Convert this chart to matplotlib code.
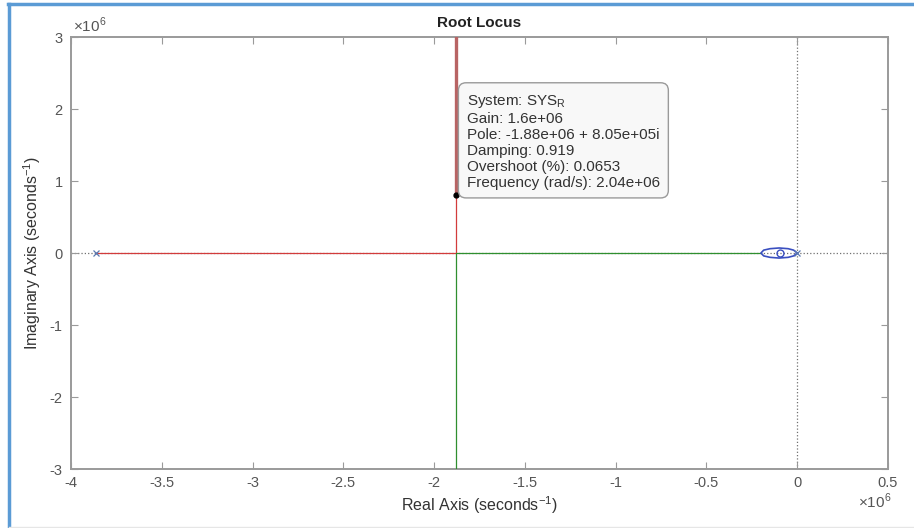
import numpy as np
import matplotlib.pyplot as plt
from matplotlib.lines import Line2D
from matplotlib.ticker import FuncFormatter

plt.rcParams['font.family'] = ['Liberation Sans', 'DejaVu Sans']
plt.rcParams['axes.unicode_minus'] = False
plt.rcParams['mathtext.fontset'] = 'custom'
plt.rcParams['mathtext.rm'] = 'Liberation Sans'

# branches of the locus (real, imag), seconds^-1
red_re = [-3.86e6, -1.88e6, -1.88e6]
red_im = [0.0, 0.0, 3.2e6]
green_re = [-0.2e6, -1.88e6, -1.88e6]
green_im = [0.0, 0.0, -3.2e6]
# small loop around the zero
blue_re = [0.0, -0.02e6, -0.05e6, -0.1e6, -0.15e6, -0.185e6, -0.2e6,
           -0.185e6, -0.15e6, -0.1e6, -0.05e6, -0.02e6, 0.0]
blue_im = [0.0, 0.04e6, 0.06e6, 0.07e6, 0.06e6, 0.04e6, 0.0,
           -0.04e6, -0.06e6, -0.07e6, -0.06e6, -0.04e6, 0.0]
poles_re = [-3.86e6, 0.0]
zeros_re = [-0.095e6]

# selected point of the data tip
tip_re, tip_im = -1.88e6, 0.805e6
tip_lines = ["System: SYS$_\\mathregular{R}$", "Gain: 1.6e+06",
             "Pole: -1.88e+06 + 8.05e+05i", "Damping: 0.919",
             "Overshoot (%): 0.0653", "Frequency (rad/s): 2.04e+06"]

xticks = np.arange(-4e6, 0.51e6, 0.5e6)
yticks = np.arange(-3e6, 3.1e6, 1e6)
scale = 1e6


def fmt(v, pos):
    return "%g" % (round(v / scale, 3) + 0.0)


fig = plt.figure(figsize=(9.14, 5.28), dpi=100)
ax = fig.add_axes([0.0777, 0.1117, 0.8939, 0.8182])

grey = '#9a9a9a'
ax.axhline(0, color='#707070', ls=':', lw=0.9, zorder=1)
ax.axvline(0, color='#707070', ls=':', lw=0.9, zorder=1)

ax.plot(red_re, red_im, color='#d23c3c', lw=0.9, zorder=3)
ax.plot([tip_re, tip_re], [tip_im, 3.2e6], color='#b86464', lw=2.4, zorder=3)
ax.plot(green_re, green_im, color='#2f8f2f', lw=0.9, zorder=3)
ax.plot(blue_re, blue_im, color='#3a4fc0', lw=1.2, zorder=4)
ax.plot(poles_re, [0, 0], 'x', color='#5a78b0', ms=5, mew=0.9, zorder=5)
ax.plot(zeros_re, [0], 'o', mfc='none', mec='#3a4fc0', ms=5, mew=1.0, zorder=5)
ax.plot([tip_re], [tip_im], 'o', color='black', ms=3.5, zorder=6)

ax.text(tip_re + 0.06e6, 2.22e6, "\n".join(tip_lines), fontsize=11,
        color='#333333', va='top', ha='left', linespacing=1.17, zorder=7,
        bbox=dict(boxstyle='round,pad=0.55,rounding_size=0.5',
                  fc='#f8f8f8', ec='#9a9a9a', lw=1.0))

ax.set_xlim(-4e6, 0.5e6)
ax.set_ylim(-3e6, 3e6)
ax.set_xticks(xticks)
ax.set_yticks(yticks)
ax.xaxis.set_major_formatter(FuncFormatter(fmt))
ax.yaxis.set_major_formatter(FuncFormatter(fmt))

ax.tick_params(direction='in', top=True, right=True, length=5, color=grey,
               labelcolor='#555555', labelsize=10.5, width=0.8)
ax.tick_params(axis='x', pad=5)
ax.tick_params(axis='y', pad=6)
for s in ax.spines.values():
    s.set_color(grey)
    s.set_linewidth(1.4)

fig.text(0.080, 0.952, "$\\times$10$^6$", fontsize=11, color='#555555',
         ha='left', va='center')
fig.text(0.975, 0.050, "$\\times$10$^6$", fontsize=11, color='#555555',
         ha='right', va='center')

ax.set_title("Root Locus", fontsize=11, fontweight='bold', color='#222222', pad=7)
ax.set_xlabel("Real Axis (seconds$^{-1}$)", fontsize=11.5, color='#333333', labelpad=3)
ax.set_ylabel("Imaginary Axis (seconds$^{-1}$)", fontsize=11.5, color='#333333', labelpad=5)

# picture frame
fig.add_artist(Line2D([0.009, 1.0], [0.992, 0.992], color='#5b9bd5', lw=2.5))
fig.add_artist(Line2D([0.010, 0.010], [0.0, 0.993], color='#5b9bd5', lw=2.5))
fig.add_artist(Line2D([0.010, 1.0], [0.002, 0.002], color='#e6e6e6', lw=1))

fig.savefig("out.png", dpi=100)
